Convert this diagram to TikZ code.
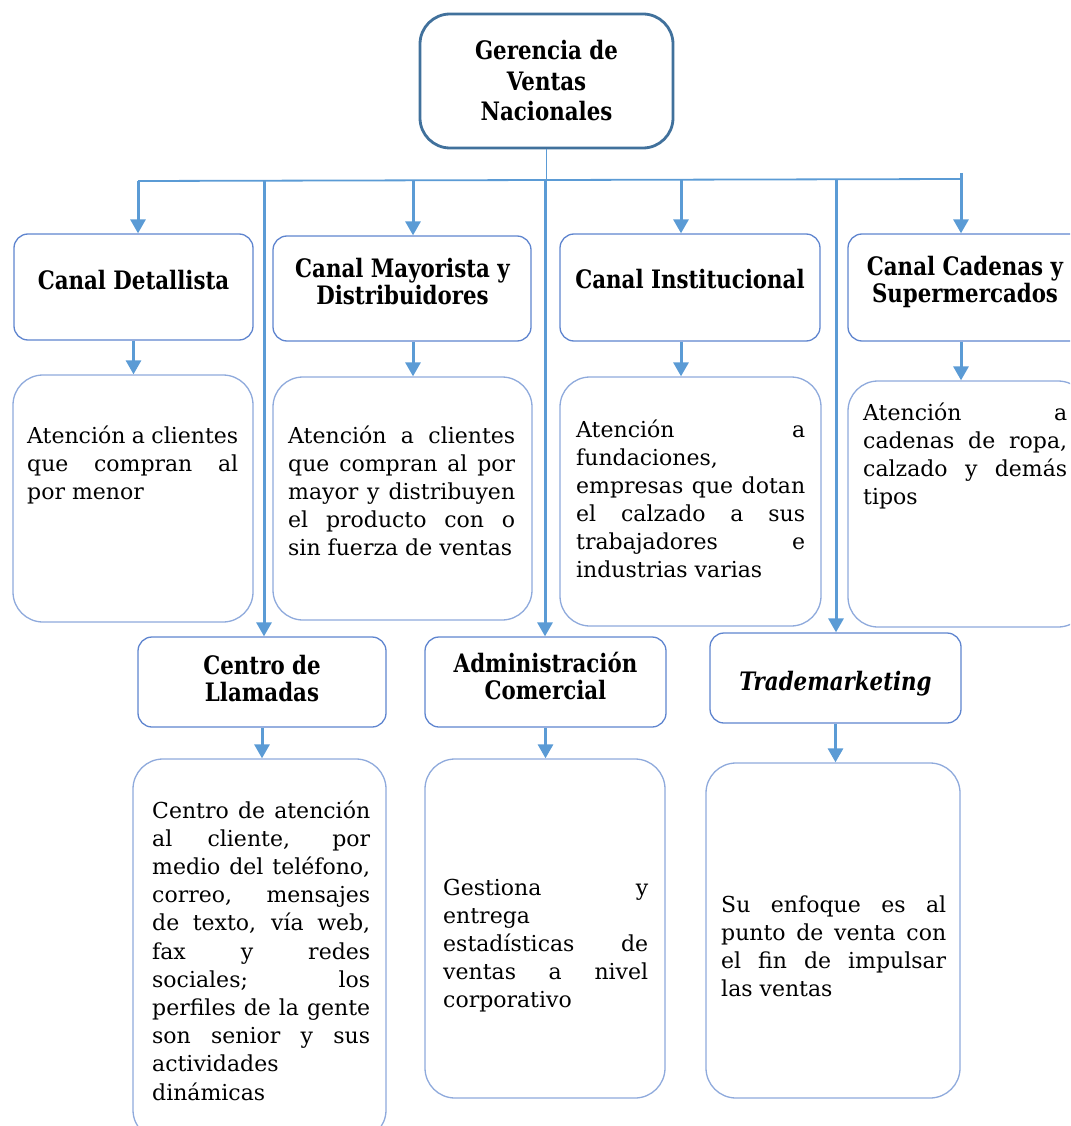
\documentclass[tikz,border=0pt]{standalone}
\usepackage{fontspec}
\setmainfont{DejaVu Serif}
\newfontfamily\titlefont[FakeStretch=0.84]{DejaVu Serif}
\usetikzlibrary{arrows.meta}
\definecolor{arrblue}{HTML}{5B9BD5}
\definecolor{boxblue}{HTML}{5F85CF}
\definecolor{txtblue}{HTML}{8FAADC}
\definecolor{topblue}{HTML}{41719C}
\newcommand\bodysize{\fontsize{22}{28}\selectfont}
\newcommand\jline[1]{\hbox to\hsize{#1}}
\newcommand\lline[1]{\hbox to\hsize{#1\hfil}}
\newcommand\bodytext[2]{\vtop{\hsize=#1\bodysize #2}}
\newcommand\ctrline[1]{\hbox to 0pt{\hss#1\hss}}
\newcommand\titletext[2]{\vtop{\titlefont\fontsize{25.4}{#1}\selectfont\bfseries #2}}
\tikzset{
  titlebox/.style={draw=boxblue, line width=1.3pt, rounded corners=14pt, fill=white, inner sep=0pt},
  textbox/.style={draw=txtblue, line width=1.3pt, rounded corners=30pt, fill=white, inner sep=0pt},
  topbox/.style={draw=topblue, line width=2.8pt, rounded corners=30pt, fill=white, inner sep=0pt},
  lbl/.style={inner sep=0pt, anchor=base},
  bodylbl/.style={inner sep=0pt, anchor=base west},
  arr/.style={draw=arrblue, line width=3pt, -{Triangle[length=14pt,width=15pt]}},
  hline/.style={draw=arrblue, line width=1.8pt}
}
\begin{document}
\begin{tikzpicture}[x=1pt,y=-1pt]
\useasboundingbox (0,0) rectangle (1070,1126);
\clip (0,0) rectangle (1070,1126);
% top
\node[topbox, minimum width=253pt, minimum height=134pt] (gv) at (546.5,81) {};
\node[lbl] (gvT) at (546.5,60) {\titletext{30.5pt}{\ctrline{Gerencia de}\ctrline{Ventas}\ctrline{Nacionales}}};
% upper title boxes
\node[titlebox, minimum width=239pt, minimum height=106pt] (cd) at (133.5,287) {};
\node[lbl] (cdT) at (133.5,289) {\titletext{27pt}{\ctrline{Canal Detallista}}};
\node[titlebox, minimum width=258pt, minimum height=105pt] (cm) at (402,288.5) {};
\node[lbl] (cmT) at (402.5,277) {\titletext{27pt}{\ctrline{Canal Mayorista y}\ctrline{Distribuidores}}};
\node[titlebox, minimum width=260pt, minimum height=107pt] (ci) at (690,287.5) {};
\node[lbl] (ciT) at (690,288) {\titletext{27pt}{\ctrline{Canal Institucional}}};
\node[titlebox, minimum width=240pt, minimum height=107pt] (cc) at (968,287.5) {};
\node[lbl] (ccT) at (965,275) {\titletext{27pt}{\ctrline{Canal Cadenas y}\ctrline{Supermercados}}};
% upper text boxes
\node[textbox, minimum width=240pt, minimum height=247pt] (dt) at (133,498.5) {};
\node[bodylbl] (dtT) at (27,443) {\bodytext{211pt}{\jline{Atención a clientes}\jline{que compran al}\lline{por menor}}};
\node[textbox, minimum width=259pt, minimum height=243pt] (mt) at (402.5,498.5) {};
\node[bodylbl] (mtT) at (288,443) {\bodytext{227pt}{\jline{Atención a clientes}\jline{que compran al por}\jline{mayor y distribuyen}\jline{el producto con o}\lline{sin fuerza de ventas}}};
\node[textbox, minimum width=261pt, minimum height=249pt] (it) at (690.5,501.5) {};
\node[bodylbl] (itT) at (576,437) {\bodytext{229pt}{\jline{Atención a}\lline{fundaciones,}\jline{empresas que dotan}\jline{el calzado a sus}\jline{trabajadores e}\lline{industrias varias}}};
\node[textbox, minimum width=240pt, minimum height=246pt] (ct) at (968,504) {};
\node[bodylbl] (ctT) at (863,420) {\bodytext{204pt}{\jline{Atención a}\jline{cadenas de ropa,}\jline{calzado y demás}\lline{tipos}}};
% lower title boxes
\node[titlebox, minimum width=248pt, minimum height=90pt] (cl) at (262,682) {};
\node[lbl] (clT) at (262,674) {\titletext{27pt}{\ctrline{Centro de}\ctrline{Llamadas}}};
\node[titlebox, minimum width=241pt, minimum height=90pt] (ca) at (545.5,682) {};
\node[lbl] (caT) at (545.5,672) {\titletext{27pt}{\ctrline{Administración}\ctrline{Comercial}}};
\node[titlebox, minimum width=251pt, minimum height=90pt] (ctm) at (835.5,678) {};
\node[lbl] (ctmT) at (835.5,690) {\titletext{27pt}{\ctrline{\itshape Trademarketing}}};
% lower text boxes
\node[textbox, minimum width=253pt, minimum height=381pt] (lt) at (259.5,949.5) {};
\node[bodylbl] (ltT) at (152,818) {\bodytext{218pt}{\baselineskip=28.2pt
  \jline{Centro de atención}\jline{al cliente, por}\jline{medio del teléfono,}\jline{correo, mensajes}\jline{de texto, vía web,}\jline{fax y redes}\jline{sociales; los}\jline{perfiles de la gente}\jline{son senior y sus}\lline{actividades}\lline{dinámicas}}};
\node[textbox, minimum width=240pt, minimum height=339pt] (at) at (545,928.5) {};
\node[bodylbl] (atT) at (443,895) {\bodytext{205pt}{\baselineskip=28.2pt
  \jline{Gestiona y}\lline{entrega}\jline{estadísticas de}\jline{ventas a nivel}\lline{corporativo}}};
\node[textbox, minimum width=254pt, minimum height=335pt] (tt) at (833,930.5) {};
\node[bodylbl] (ttT) at (721,912) {\bodytext{225pt}{\baselineskip=28.2pt
  \jline{Su enfoque es al}\jline{punto de venta con}\jline{el fin de impulsar}\lline{las ventas}}};
% connectors
\coordinate (hL) at (138,181);
\coordinate (hR) at (961,179);
\coordinate (bM) at (413,181);
\coordinate (bI) at (681,180);
\coordinate (bC) at (961,173);
\coordinate (bL) at (264,181);
\coordinate (bA) at (545,181);
\coordinate (bT) at (836,180);
\draw[hline] (gv.south) -- (gv.south |- hL);
\draw[hline] (hL) -- (hR);
\draw[arr] (hL) -- (hL |- cd.north);
\draw[arr] (bM) -- (bM |- cm.north);
\draw[arr] (bI) -- (bI |- ci.north);
\draw[arr] (bC) -- (bC |- cc.north);
\draw[arr] (bL) -- (bL |- cl.north);
\draw[arr] (bA) -- (bA |- ca.north);
\draw[arr] (bT) -- (bT |- ctm.north);
\draw[arr] (cd.south) -- (cd.south |- dt.north);
\draw[arr] (bM |- cm.south) -- (bM |- mt.north);
\draw[arr] (bI |- ci.south) -- (bI |- it.north);
\draw[arr] (bC |- cc.south) -- (bC |- ct.north);
\draw[arr] (cl.south) -- (cl.south |- lt.north);
\draw[arr] (ca.south) -- (ca.south |- at.north);
\draw[arr] (ctm.south) -- (ctm.south |- tt.north);
\end{tikzpicture}
\end{document}
